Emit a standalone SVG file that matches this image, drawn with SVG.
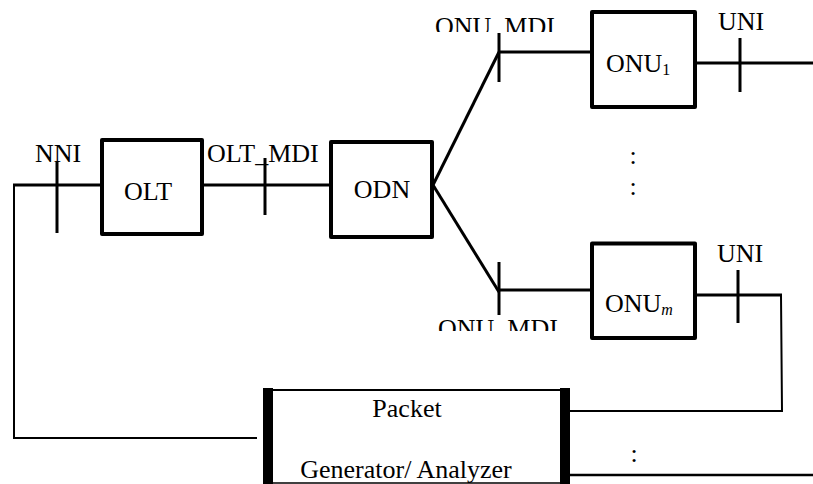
<svg xmlns="http://www.w3.org/2000/svg" width="813" height="484" viewBox="0 0 813 484" font-family="'Liberation Serif', 'Times New Roman', 'DejaVu Serif', serif">
<style>
text{font-family:'Liberation Serif','Times New Roman','DejaVu Serif',serif;font-size:26px;fill:#000}
.box{fill:#fff;stroke:#000;stroke-width:4;stroke-linejoin:round}
.thick{stroke:#000;stroke-width:3;fill:none}
.thin{stroke:#000;stroke-width:2;fill:none}
.sub{font-size:16px}
</style>
<defs>
<clipPath id="clipTop"><rect x="420" y="0" width="160" height="32"/></clipPath>
<clipPath id="clipBot"><rect x="420" y="300" width="160" height="31"/></clipPath>
</defs>
<rect width="813" height="484" fill="#fff"/>
<g id="connectors">
<polyline class="thin" points="14,184 14,438 257,438"/>
<line class="thick" x1="13" y1="185" x2="102" y2="185"/>
<line class="thick" x1="57" y1="162" x2="57" y2="233"/>
<line class="thick" x1="202" y1="185" x2="331" y2="185"/>
<line class="thick" x1="265" y1="158" x2="265" y2="215"/>
<line class="thick" x1="433" y1="185" x2="499" y2="52"/>
<line class="thick" x1="433" y1="185" x2="499" y2="292"/>
<line class="thick" x1="499" y1="33" x2="499" y2="82"/>
<line class="thick" x1="499" y1="52" x2="592" y2="52"/>
<line class="thick" x1="695" y1="63" x2="813" y2="63"/>
<line class="thick" x1="740" y1="38" x2="740" y2="92"/>
<line class="thick" x1="499" y1="262" x2="499" y2="315"/>
<line class="thick" x1="499" y1="290" x2="592" y2="290"/>
<line class="thick" x1="695" y1="295" x2="782" y2="295"/>
<line class="thick" x1="738" y1="270" x2="738" y2="323"/>
<polyline class="thin" points="781,295 782,411 568,411"/>
<line x1="568" y1="475" x2="813" y2="475" stroke="#000" stroke-width="2.5"/>
</g>
<g id="OLT">
<rect class="box" x="102" y="140" width="100" height="94"/>
<text x="148" y="200" text-anchor="middle">OLT</text>
</g>
<g id="ODN">
<rect class="box" x="331" y="142" width="101" height="95"/>
<text x="382" y="198" text-anchor="middle">ODN</text>
</g>
<g id="ONU1">
<rect class="box" x="592" y="12" width="103" height="95"/>
<text x="606" y="72">ONU<tspan class="sub" dy="3">1</tspan></text>
</g>
<g id="ONUm">
<rect class="box" x="592" y="243.5" width="103" height="94.5"/>
<text x="605" y="312">ONU<tspan class="sub" font-style="italic" dy="3">m</tspan></text>
</g>
<g id="PacketGenerator">
<rect x="268" y="390" width="297" height="100" fill="#fff" stroke="#000" stroke-width="2"/>
<rect x="263" y="388" width="10" height="96" fill="#000"/>
<rect x="560" y="388" width="10" height="96" fill="#000"/>
<line x1="263" y1="483" x2="570" y2="483" stroke="#000" stroke-width="1.5"/>
<text x="407" y="417" text-anchor="middle">Packet</text>
<text x="406" y="477.5" text-anchor="middle">Generator/ Analyzer</text>
</g>
<g id="labels">
<text x="35" y="162">NNI</text>
<text x="207" y="162">OLT_MDI</text>
<text x="435" y="35" clip-path="url(#clipTop)">ONU_MDI</text>
<text x="718" y="30">UNI</text>
<text x="717" y="262">UNI</text>
<text x="438" y="337" clip-path="url(#clipBot)">ONU_MDI</text>
<text x="633" y="163.5" text-anchor="middle">:</text>
<text x="633" y="194.5" text-anchor="middle">:</text>
<text x="634" y="461.5" text-anchor="middle">:</text>
</g>
</svg>
